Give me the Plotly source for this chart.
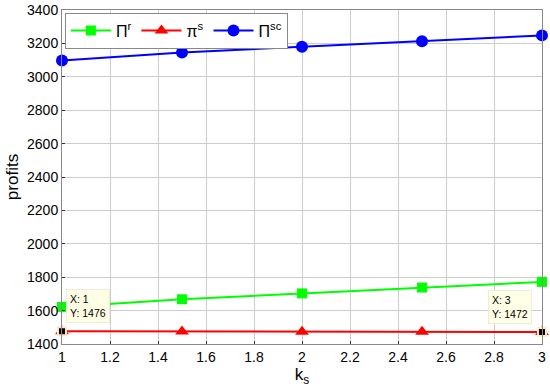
import plotly.graph_objects as go

ks = [1, 1.5, 2, 2.5, 3]
pi_r = [1622, 1668, 1703, 1738, 1772]
pi_s = [1476, 1475, 1474, 1473, 1472]
pi_sc = [3098, 3145, 3180, 3213, 3248]

x_ticks = [1, 1.2, 1.4, 1.6, 1.8, 2, 2.2, 2.4, 2.6, 2.8, 3]
y_ticks = [1400, 1600, 1800, 2000, 2200, 2400, 2600, 2800, 3000, 3200, 3400]

tip_x = [1, 3]
tip_y = [1476, 1472]

fig = go.Figure()
fig.add_trace(go.Scatter(
    name="Π<sup>r</sup>", x=ks, y=pi_r, mode="lines+markers", cliponaxis=False,
    line=dict(color="#00ff00", width=2),
    marker=dict(symbol="square", size=10, color="#00ff00")))
fig.add_trace(go.Scatter(
    name="π<sup>s</sup>", x=ks, y=pi_s, mode="lines+markers", cliponaxis=False,
    line=dict(color="#ff0000", width=2),
    marker=dict(symbol="triangle-up", size=12, color="#ff0000")))
fig.add_trace(go.Scatter(
    name="Π<sup>sc</sup>", x=ks, y=pi_sc, mode="lines+markers", cliponaxis=False,
    line=dict(color="#0000ff", width=2),
    marker=dict(symbol="circle", size=12, color="#0000ff")))

# data tips
fig.add_trace(go.Scatter(
    x=tip_x, y=tip_y, mode="markers", showlegend=False, cliponaxis=False,
    marker=dict(symbol="square", size=8, color="black",
                line=dict(color="#ffe8c0", width=2))))
fig.add_annotation(x=tip_x[0], y=tip_y[0], text="X: %g<br>Y: %g" % (tip_x[0], tip_y[0]),
                   showarrow=True, arrowcolor="rgba(0,0,0,0)", ax=4, ay=-8,
                   xanchor="left", yanchor="bottom", align="left",
                   bgcolor="#ffffe6", bordercolor="#ececd8", borderpad=3,
                   font=dict(size=10.5, color="black"))
fig.add_annotation(x=tip_x[1], y=tip_y[1], text="X: %g<br>Y: %g" % (tip_x[1], tip_y[1]),
                   showarrow=True, arrowcolor="rgba(0,0,0,0)", ax=-10, ay=-8,
                   xanchor="right", yanchor="bottom", align="left",
                   bgcolor="#ffffe6", bordercolor="#ececd8", borderpad=3,
                   font=dict(size=10.5, color="black"))

fig.update_layout(
    width=550, height=390,
    margin=dict(l=62, r=8, t=10, b=46),
    paper_bgcolor="white", plot_bgcolor="white",
    font=dict(family="Liberation Sans, Arial, sans-serif", size=14, color="black"),
    legend=dict(orientation="h", x=0.006, y=0.992, xanchor="left", yanchor="top",
                bgcolor="white", bordercolor="#888", borderwidth=1,
                font=dict(size=16), itemwidth=40),
    showlegend=True)
fig.update_xaxes(range=[1, 3], tickvals=x_ticks, ticktext=["%g" % v for v in x_ticks],
                 showgrid=True, gridcolor="#cccccc", ticklabeloverflow="allow",
                 showline=True, linecolor="#888", mirror=True, ticks="inside",
                 ticklen=3, tickcolor="#333", zeroline=False, automargin=False,
                 title=dict(text="k<sub>s</sub>", standoff=4))
fig.update_yaxes(range=[1400, 3400], tickvals=y_ticks, ticktext=["%g" % v for v in y_ticks],
                 showgrid=True, gridcolor="#cccccc", ticklabeloverflow="allow",
                 showline=True, linecolor="#888", mirror=True, ticks="inside",
                 ticklen=3, tickcolor="#333", zeroline=False, automargin=False,
                 title=dict(text="profits", standoff=4))

# drop the default 8px page margin so the figure sits at the window corner
fig.write_html("out.html", config={"displayModeBar": False},
               post_script="document.body.style.margin='0';")
